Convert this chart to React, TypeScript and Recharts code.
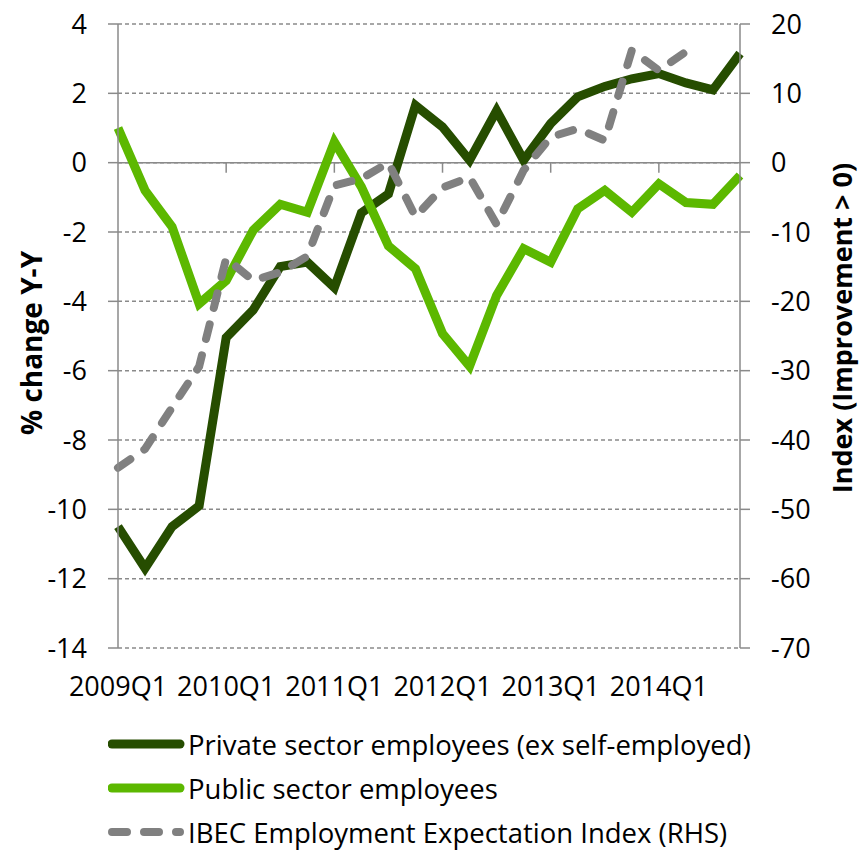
import { LineChart, Line, XAxis, YAxis, CartesianGrid, ReferenceLine } from 'recharts'

const quarters = [
  '2009Q1', '2009Q2', '2009Q3', '2009Q4',
  '2010Q1', '2010Q2', '2010Q3', '2010Q4',
  '2011Q1', '2011Q2', '2011Q3', '2011Q4',
  '2012Q1', '2012Q2', '2012Q3', '2012Q4',
  '2013Q1', '2013Q2', '2013Q3', '2013Q4',
  '2014Q1', '2014Q2', '2014Q3', '2014Q4',
]

const privateSector = [-10.5, -11.7, -10.5, -9.9, -5.05, -4.25, -3.0, -2.87, -3.6, -1.45, -0.9, 1.65, 1.03, 0.07, 1.5, 0.07, 1.13, 1.9, 2.2, 2.42, 2.57, 2.3, 2.1, 3.15]
const publicSector = [1.0, -0.8, -1.85, -4.07, -3.4, -1.95, -1.2, -1.43, 0.6, -0.7, -2.4, -3.06, -4.93, -5.87, -3.83, -2.48, -2.87, -1.33, -0.8, -1.43, -0.61, -1.15, -1.2, -0.37]
const ibecIndex: (number | null)[] = [-44, -41.3, -35.3, -29.4, -13.8, -17, -15.8, -13.5, -3.3, -2.3, 0, -7.8, -3.6, -2.1, -8.9, -1.1, 3.7, 4.9, 3.2, 16.2, 13.3, 16.0, null, null]

const leftTicks = [-14, -12, -10, -8, -6, -4, -2, 0, 2, 4]
const rightTicks = [-70, -60, -50, -40, -30, -20, -10, 0, 10, 20]
const yearStarts = ['2010Q1', '2011Q1', '2012Q1', '2013Q1', '2014Q1']

const DARK = '#264d00'
const LIGHT = '#5cb800'
const GREY = '#808080'
const AXIS = '#8a8a8a'
const FONT = '"Open Sans", sans-serif'

const data = quarters.map((q, i) => ({
  q,
  priv: privateSector[i],
  pub: publicSector[i],
  ibec: ibecIndex[i],
}))

const tickStyle = { fontSize: 27, fill: '#000', fontFamily: FONT }

const legendItems = [
  { label: 'Private sector employees (ex self-employed)', color: DARK, dash: undefined, width: 9 },
  { label: 'Public sector employees', color: LIGHT, dash: undefined, width: 9 },
  { label: 'IBEC Employment Expectation Index (RHS)', color: GREY, dash: '15 17', width: 8 },
]

export default function App() {
  return (
    <div style={{ position: 'relative', width: 866, height: 858, background: '#fff', fontFamily: FONT }}>
      <style>{'body{margin:0}'}</style>
      <LineChart width={866} height={858} data={data} margin={{ top: 24, right: 0, bottom: 170, left: 0 }}>
        <CartesianGrid vertical={false} yAxisId="left" stroke={AXIS} strokeWidth={1.5} strokeDasharray="4 3" />
        <XAxis
          dataKey="q"
          interval={3}
          axisLine={false}
          tickLine={false}
          tickSize={10}
          tickMargin={19}
          height={40}
          tick={tickStyle}
        />
        <YAxis
          yAxisId="left"
          domain={[-14, 4]}
          ticks={leftTicks}
          width={118}
          axisLine={{ stroke: AXIS, strokeWidth: 1.5 }}
          tickLine={{ stroke: AXIS, strokeWidth: 1.5 }}
          tickSize={10}
          tickMargin={21}
          tick={tickStyle}
          interval={0}
        />
        <YAxis
          yAxisId="right"
          orientation="right"
          domain={[-70, 20]}
          ticks={rightTicks}
          width={126}
          axisLine={{ stroke: AXIS, strokeWidth: 1.5 }}
          tickLine={{ stroke: AXIS, strokeWidth: 1.5 }}
          tickSize={10}
          tickMargin={21}
          tick={tickStyle}
          interval={0}
        />
        <ReferenceLine yAxisId="left" y={0} stroke={AXIS} strokeWidth={1.5} />
        {yearStarts.map(q => (
          <ReferenceLine
            key={q}
            yAxisId="left"
            segment={[{ x: q, y: 0 }, { x: q, y: -0.29 }]}
            stroke={AXIS}
            strokeWidth={1.5}
          />
        ))}
        <Line yAxisId="left" dataKey="priv" stroke={DARK} strokeWidth={9} dot={false} isAnimationActive={false} />
        <Line yAxisId="left" dataKey="pub" stroke={LIGHT} strokeWidth={9} dot={false} isAnimationActive={false} />
        <Line
          yAxisId="right"
          dataKey="ibec"
          stroke={GREY}
          strokeWidth={8}
          strokeDasharray="15 17"
          strokeLinecap="round"
          dot={false}
          isAnimationActive={false}
        />
      </LineChart>

      {/* axis titles */}
      <svg width={866} height={858} style={{ position: 'absolute', left: 0, top: 0, pointerEvents: 'none' }}>
        <text
          x={31} y={343} transform="rotate(-90 31 343)"
          textAnchor="middle" dominantBaseline="central"
          fontFamily={FONT} fontWeight={700} fontSize={28}
        >
          % change Y-Y
        </text>
        <text
          x={841} y={328} transform="rotate(-90 841 328)"
          textAnchor="middle" dominantBaseline="central"
          fontFamily={FONT} fontWeight={700} fontSize={27}
        >
          Index (Improvement &gt; 0)
        </text>
      </svg>

      {/* legend */}
      {legendItems.map((it, i) => (
        <div key={it.label} style={{ position: 'absolute', left: 108, top: 744 + i * 44 - 18, height: 36, display: 'flex', alignItems: 'center' }}>
          <svg width={78} height={12} style={{ marginRight: 2 }}>
            <line x1={4} y1={6} x2={72} y2={6} stroke={it.color} strokeWidth={it.width} strokeLinecap="round" strokeDasharray={it.dash} />
          </svg>
          <span style={{ fontSize: 27.5, color: '#000', whiteSpace: 'nowrap' }}>{it.label}</span>
        </div>
      ))}
    </div>
  )
}
